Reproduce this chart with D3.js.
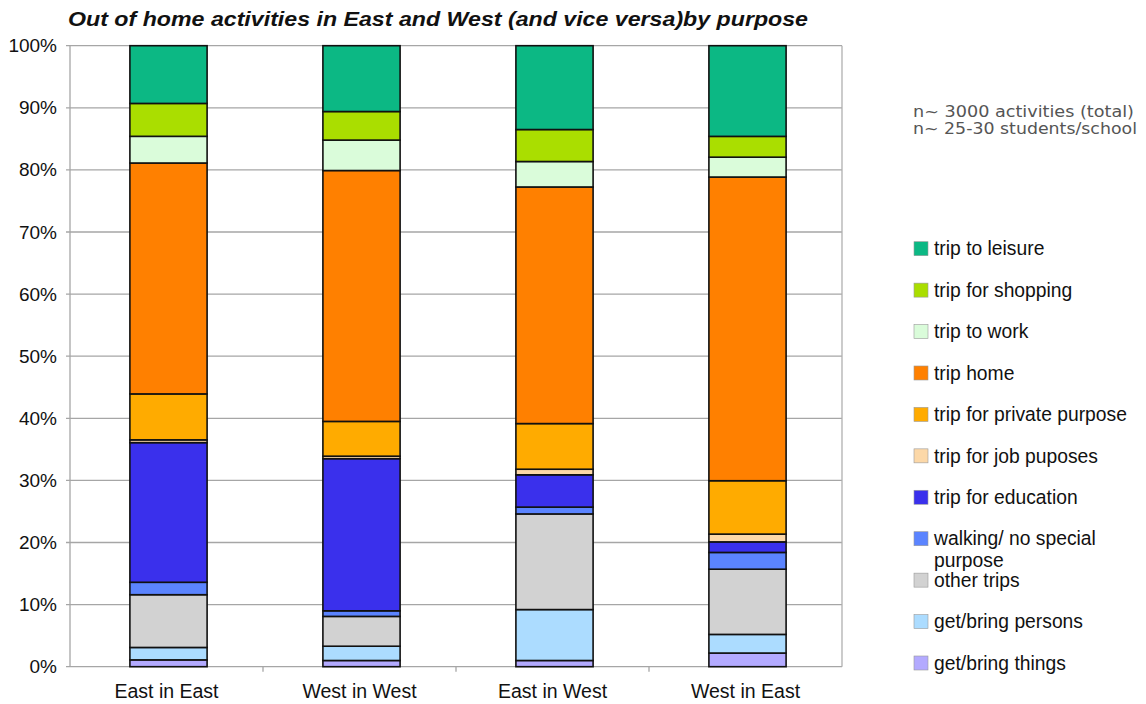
<!DOCTYPE html>
<html><head><meta charset="utf-8">
<script src="https://cdn.jsdelivr.net/npm/d3@7"></script>
<style>
body{margin:0;background:#fff;}
</style></head>
<body><svg id="c" width="1146" height="704" font-family="Arial, 'Liberation Sans', sans-serif"></svg>
<script>
const categories = ["East in East","West in West","East in West","West in East"];
const seriesNames = ["get/bring things","get/bring persons","other trips","walking/ no special purpose","trip for education","trip for job puposes","trip for private purpose","trip home","trip to work","trip for shopping","trip to leisure"];
const seriesColors = ["#b3aaff","#acdcff","#d2d2d2","#5b84ff","#3a30ec","#fcd8a8","#ffab00","#ff8000","#dafcda","#aade00","#0cb884"];
const getThings   = [1.1, 1.0, 1.0, 2.2];
const getPersons  = [2.0, 2.3, 8.2, 3.0];
const otherTrips  = [8.5, 4.8, 15.4, 10.5];
const walking     = [2.0, 0.9, 1.1, 2.7];
const education   = [22.5, 24.5, 5.2, 1.7];
const jobPurposes = [0.45, 0.4, 0.9, 1.25];
const privatePurp = [7.4, 5.6, 7.35, 8.6];
const tripHome    = [37.2, 40.4, 38.1, 48.9];
const tripWork    = [4.3, 4.9, 4.1, 3.2];
const shopping    = [5.3, 4.6, 5.15, 3.35];
const leisure     = [9.3, 10.6, 13.5, 14.6];
const yTicks = [0,0.1,0.2,0.3,0.4,0.5,0.6,0.7,0.8,0.9,1];
const titleText = "Out of home activities in East and West (and vice versa)by purpose";
const noteLines = ["n~ 3000 activities (total)","n~ 25-30 students/school"];

const seriesValues = [getThings,getPersons,otherTrips,walking,education,jobPurposes,privatePurp,tripHome,tripWork,shopping,leisure];
const rows = categories.map((c,i)=>{const r={cat:c}; seriesNames.forEach((s,j)=>r[s]=seriesValues[j][i]); return r;});

const svg = d3.select("#c");
const x = d3.scaleBand().domain(categories).range([70,842]).paddingInner(0.6).paddingOuter(0.3);
const xb = d3.scaleBand().domain(categories).range([70,842]).padding(0);
const y = d3.scaleLinear().domain([0,1]).range([666.7,45.7]);

const stack = d3.stack().keys(seriesNames).offset(d3.stackOffsetExpand);
const layers = stack(rows);

// gridlines
svg.append("g").selectAll("line").data(yTicks).join("line")
  .attr("x1",66).attr("x2",842).attr("y1",d=>y(d)).attr("y2",d=>y(d))
  .attr("stroke","#a6a6a6").attr("stroke-width",1.3);
// frame
svg.append("line").attr("x1",70).attr("x2",70).attr("y1",y(1)).attr("y2",y(0)).attr("stroke","#a6a6a6").attr("stroke-width",1.3);
svg.append("line").attr("x1",842).attr("x2",842).attr("y1",y(1)).attr("y2",y(0)).attr("stroke","#b0b0b0").attr("stroke-width",1.3);

// y axis labels
const yAxis = d3.axisLeft(y).tickValues(yTicks).tickFormat(d3.format(".0%")).tickSize(0).tickPadding(13);
const ya = svg.append("g").attr("transform","translate(70,0)").call(yAxis);
ya.select(".domain").remove();
ya.attr("font-family",null).attr("font-size",null);
ya.selectAll("text").attr("font-size",19).attr("fill","#111");

// x axis
const xAxis = d3.axisBottom(x).tickSize(0).tickPadding(17);
const xa = svg.append("g").attr("transform",`translate(0,${y(0)})`).call(xAxis);
xa.select(".domain").remove();
xa.attr("font-family",null).attr("font-size",null);
xa.selectAll("text").attr("font-size",19.5).attr("fill","#111");
svg.append("g").selectAll("line").data(categories.slice(1)).join("line")
  .attr("x1",d=>xb(d)).attr("x2",d=>xb(d)).attr("y1",y(0)).attr("y2",y(0)+5)
  .attr("stroke","#a6a6a6").attr("stroke-width",1.3);

// bars
svg.append("g").selectAll("g").data(layers).join("g")
  .attr("fill",(d,i)=>seriesColors[i])
  .selectAll("rect").data(d=>d).join("rect")
  .attr("x",d=>x(d.data.cat)+2).attr("width",x.bandwidth())
  .attr("y",d=>y(d[1])).attr("height",d=>y(d[0])-y(d[1]))
  .attr("stroke","#111").attr("stroke-width",1.6);

// title
svg.append("text").attr("x",68).attr("y",26).text(titleText)
  .attr("font-size",19.5).attr("font-weight","bold").attr("font-style","italic").attr("fill","#111")
  .attr("textLength",740).attr("lengthAdjust","spacingAndGlyphs");

// note
const noteW = [221, 224];
svg.append("g").selectAll("text").data(noteLines).join("text")
  .attr("x",913).attr("y",(d,i)=>117+i*17).text(d=>d)
  .style("font-family","'DejaVu Sans', Verdana, sans-serif").attr("font-size",15).attr("fill","#555")
  .attr("textLength",(d,i)=>noteW[i]).attr("lengthAdjust","spacingAndGlyphs");

// legend
const legendOrder = seriesNames.map((s,i)=>({name:s,color:seriesColors[i]})).reverse();
const lg = svg.append("g").selectAll("g").data(legendOrder).join("g")
  .attr("transform",(d,i)=>`translate(914,${248.7+41.43*i})`);
lg.append("rect").attr("x",0).attr("y",-7).attr("width",14).attr("height",14)
  .attr("fill",d=>d.color).attr("stroke","#999").attr("stroke-width",0.6);
lg.append("text").attr("x",20).attr("y",0).attr("dy","0.35em").attr("font-size",19.3).attr("fill","#111")
  .each(function(d){
    const t=d3.select(this);
    if(d.name==="walking/ no special purpose"){
      t.append("tspan").attr("x",20).text("walking/ no special");
      t.append("tspan").attr("x",20).attr("dy","1.12em").text("purpose");
    } else t.text(d.name);
  });
</script></body></html>
